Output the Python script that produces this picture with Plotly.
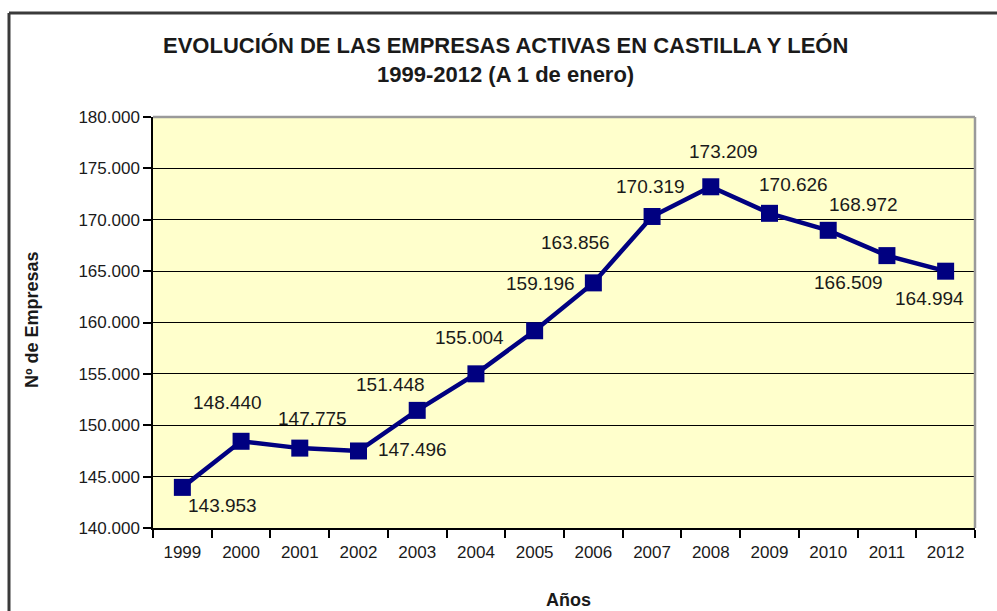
import plotly.graph_objects as go

years = ["1999", "2000", "2001", "2002", "2003", "2004", "2005",
         "2006", "2007", "2008", "2009", "2010", "2011", "2012"]
empresas = [143953, 148440, 147775, 147496, 151448, 155004, 159196,
            163856, 170319, 173209, 170626, 168972, 166509, 164994]
value_labels = ["143.953", "148.440", "147.775", "147.496", "151.448", "155.004", "159.196",
                "163.856", "170.319", "173.209", "170.626", "168.972", "166.509", "164.994"]
y_ticks = [140000, 145000, 150000, 155000, 160000, 165000, 170000, 175000, 180000]

# label offsets in pixels (dx right, dy down) relative to each point
label_dx = [40, -14, 13, 54, -27, -6, 6, -18, -2, 13, 24, 35, -38, -16]
label_dy = [18, -39, -30, -1, -26, -36, -47, -40, -30, -35, -29, -26, 27, 27]

W, H = 997, 611
L, R, T, B = 153, 975, 117, 528
pw, ph = R - L, B - T


def px(x):
    return (x - L) / pw


def py(y):
    return (B - y) / ph


FONT = "Liberation Sans, Arial, sans-serif"
NAVY = "#000080"

fig = go.Figure()
fig.add_trace(go.Scatter(
    x=years, y=empresas, mode="lines+markers",
    line=dict(color=NAVY, width=4.5),
    marker=dict(symbol="square", size=17, color=NAVY),
    hoverinfo="x+y", showlegend=False,
))

annotations = []
for i, (v, lab, dx, dy) in enumerate(zip(empresas, value_labels, label_dx, label_dy)):
    annotations.append(dict(
        x=i, y=v, xref="x", yref="y", text=lab, showarrow=False,
        xshift=dx, yshift=-dy, xanchor="center", yanchor="middle",
        font=dict(family=FONT, size=19, color="#1a1a1a"),
    ))

annotations += [
    dict(x=(505.5 - L) / pw, y=py(45), xref="paper", yref="paper",
         text="<b>EVOLUCIÓN DE LAS EMPRESAS ACTIVAS EN CASTILLA Y LEÓN</b>",
         showarrow=False, xanchor="center", yanchor="middle",
         font=dict(family=FONT, size=22, color="#1a1a1a")),
    dict(x=(505.5 - L) / pw, y=py(74), xref="paper", yref="paper",
         text="<b>1999-2012 (A 1 de enero)</b>",
         showarrow=False, xanchor="center", yanchor="middle",
         font=dict(family=FONT, size=22, color="#1a1a1a")),
    dict(x=px(32), y=py(320), xref="paper", yref="paper",
         text="<b>Nº de Empresas</b>", textangle=-90,
         showarrow=False, xanchor="center", yanchor="middle",
         font=dict(family=FONT, size=18, color="#1a1a1a")),
    dict(x=px(568), y=py(600), xref="paper", yref="paper",
         text="<b>Años</b>",
         showarrow=False, xanchor="center", yanchor="middle",
         font=dict(family=FONT, size=18, color="#1a1a1a")),
]

shapes = [
    # outer chart frame (left + top visible, rest cut off)
    dict(type="line", xref="paper", yref="paper",
         x0=px(9), x1=px(1010), y0=py(13), y1=py(13),
         line=dict(color="#3a3a3a", width=3)),
    dict(type="line", xref="paper", yref="paper",
         x0=px(9), x1=px(9), y0=py(13), y1=py(640),
         line=dict(color="#3a3a3a", width=3)),
    # plot area gray border (top + right)
    dict(type="line", xref="paper", yref="paper",
         x0=0, x1=1, y0=1, y1=1, line=dict(color="#9a9a9a", width=2.5)),
    dict(type="line", xref="paper", yref="paper",
         x0=1, x1=1, y0=0, y1=1, line=dict(color="#9a9a9a", width=2.5)),
]

fig.update_layout(
    width=W, height=H,
    margin=dict(l=L, r=W - R, t=T, b=H - B),
    paper_bgcolor="white",
    plot_bgcolor="#FFFFCC",
    separators=",.",
    annotations=annotations,
    shapes=shapes,
    showlegend=False,
    xaxis=dict(
        type="category", range=[-0.5, 13.5],
        tickson="boundaries", ticks="outside", ticklen=8, tickwidth=1.5,
        tickcolor="black", showline=True, linecolor="black", linewidth=1.5,
        showgrid=False, zeroline=False, fixedrange=True,
        ticklabelstandoff=8,
        tickfont=dict(family=FONT, size=17, color="#1a1a1a"),
    ),
    yaxis=dict(
        range=[140000, 180000], tickvals=y_ticks, tickformat=",d",
        ticks="outside", ticklen=8, tickwidth=1.5, tickcolor="black",
        showline=True, linecolor="black", linewidth=1.5,
        showgrid=True, gridcolor="black", gridwidth=1,
        zeroline=False, fixedrange=True,
        tickfont=dict(family=FONT, size=17, color="#1a1a1a"),
    ),
)

fig.write_html("out.html")
